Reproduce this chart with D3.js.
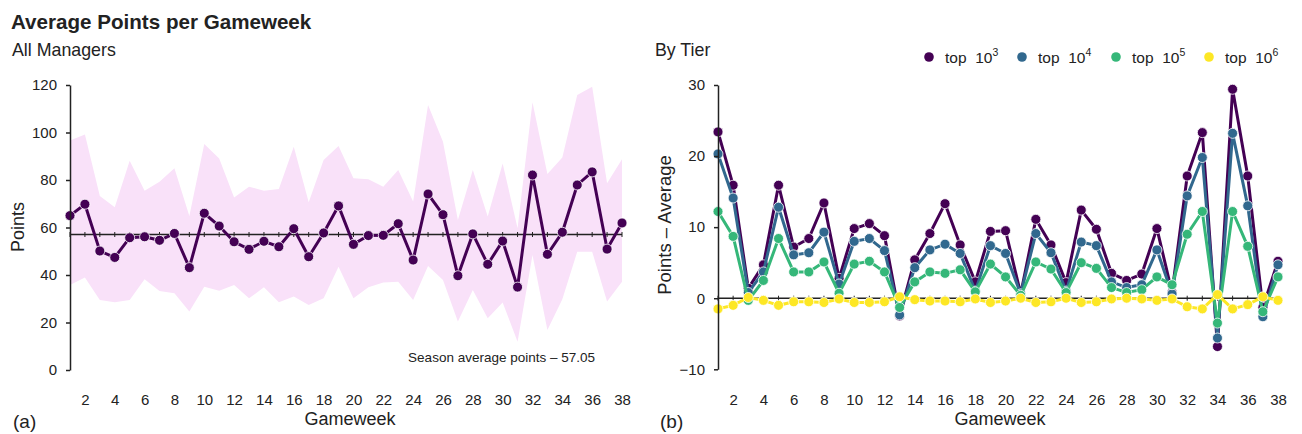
<!DOCTYPE html>
<html>
<head>
<meta charset="utf-8">
<script src="https://cdn.jsdelivr.net/npm/d3@7"></script>
<style>
  body { margin: 0; background: #fff; }
  svg text { font-family: "Liberation Sans", Arial, sans-serif; fill: #222; }
</style>
</head>
<body>
<svg id="chart" width="1302" height="434"></svg>
<script>
// gameweeks 1..38
const gameweeks = d3.range(1, 39)

// panel (a): average points of all managers, plus the spread band
const avgPoints = [65.0, 69.8, 50.1, 47.4, 55.7, 56.1, 54.6, 57.5, 43.1, 66.0,
    60.6, 54.0, 50.8, 54.2, 51.9, 59.5, 47.7, 57.7, 69.1, 52.9,
    56.6, 56.7, 61.6, 46.3, 74.1, 65.4, 39.7, 57.3, 44.5, 54.3,
    34.9, 82.1, 48.7, 58.0, 77.9, 83.4, 50.9, 61.9]
const bandUpper = [96.6, 99.2, 73.3, 68.5, 88.1, 75.5, 79.3, 84.9, 64.8, 95.2,
    89.1, 72.6, 77.2, 75.5, 76.2, 94.0, 70.6, 88.4, 94.3, 80.7,
    80.3, 77.2, 84.2, 70.9, 111.6, 96.1, 63.2, 84.2, 64.6, 87.0,
    59.7, 112.7, 82.5, 89.5, 115.8, 119.3, 78.6, 88.7]
const bandLower = [35.8, 39.0, 29.5, 28.5, 29.5, 38.2, 33.3, 32.3, 24.6, 35.1,
    33.4, 35.8, 30.2, 34.8, 28.5, 30.9, 27.4, 30.2, 43.5, 30.2,
    34.8, 36.8, 37.2, 29.5, 43.8, 37.9, 20.4, 33.7, 21.8, 28.4,
    11.9, 48.4, 16.8, 29.8, 49.8, 49.8, 28.8, 37.2]
const seasonAvg = 57.05

// panel (b): points minus average, per tier
const tierNames = ["3", "4", "5", "6"]
const tierColors = ["#440154", "#31688e", "#35b779", "#fde725"]
const top1e3 = [23.4, 15.9, 1.4, 4.7, 15.9, 7.2, 8.4, 13.4, 2.8, 9.8,
    10.5, 8.8, -2.5, 5.4, 9.1, 13.3, 7.5, 2.3, 9.4, 9.5,
    0.6, 11.1, 7.5, 2.2, 12.4, 9.7, 3.5, 2.5, 3.4, 9.8,
    0.8, 17.2, 23.3, -6.8, 29.4, 17.2, -1.3, 5.2]
const top1e4 = [20.3, 14.1, 0.8, 3.7, 12.8, 6.1, 6.4, 9.3, 2.0, 8.0,
    8.4, 6.7, -2.35, 4.3, 6.8, 7.6, 6.3, 1.0, 7.4, 6.3,
    0.6, 9.1, 6.4, 1.0, 7.9, 7.4, 2.3, 1.5, 1.9, 6.8,
    0.6, 14.4, 19.8, -5.6, 23.2, 13.0, -2.6, 4.7]
const top1e5 = [12.2, 8.7, -0.3, 2.5, 8.4, 3.7, 3.7, 5.1, 0.7, 4.8,
    5.2, 3.7, -1.3, 2.3, 3.7, 3.5, 4.0, 0.9, 4.8, 3.0,
    0.4, 5.1, 4.1, 0.8, 5.0, 4.2, 1.5, 0.8, 1.2, 3.0,
    1.9, 9.0, 12.2, -3.5, 12.2, 7.3, -1.9, 3.0]
const top1e6 = [-1.5, -1.0, 0.1, -0.3, -1.0, -0.5, -0.5, -0.6, -0.1, -0.6,
    -0.6, -0.5, 0.2, -0.2, -0.4, -0.4, -0.5, -0.1, -0.6, -0.4,
    0.0, -0.6, -0.5, 0.0, -0.6, -0.5, -0.1, 0.0, -0.1, -0.3,
    -0.1, -1.2, -1.5, 0.5, -1.5, -0.9, 0.2, -0.3]
const tiers = [top1e3, top1e4, top1e5, top1e6]

const xTicks = d3.range(2, 39, 2)
const yTicksL = [0, 20, 40, 60, 80, 100, 120]
const yTicksR = [-10, 0, 10, 20, 30]

const svg = d3.select("#chart")

// titles
svg.append("text").attr("x", 11).attr("y", 29)
    .style("font-size", "20.6px").style("font-weight", "bold")
    .text("Average Points per Gameweek")
svg.append("text").attr("x", 12).attr("y", 56)
    .style("font-size", "17.8px").text("All Managers")
svg.append("text").attr("x", 655).attr("y", 56)
    .style("font-size", "17.8px").text("By Tier")

//*************** Panel (a) ***************/
const xL = d3.scaleLinear().domain([1, 38]).range([70, 622])
const yL = d3.scaleLinear().domain([0, 120]).range([370, 85])

const gA = svg.append("g")

// band
gA.append("path")
    .datum(gameweeks)
    .attr("fill", "#f9e1f9")
    .attr("d", d3.area()
        .x(d => xL(d))
        .y0((d, i) => yL(bandLower[i]))
        .y1((d, i) => yL(bandUpper[i])))

// season average line with little ticks
gA.append("line")
    .attr("x1", xL(1)).attr("x2", xL(38))
    .attr("y1", yL(seasonAvg)).attr("y2", yL(seasonAvg))
    .attr("stroke", "#222").attr("stroke-width", 1.5)
gA.selectAll(".avgTick").data(gameweeks).join("line")
    .attr("x1", d => xL(d)).attr("x2", d => xL(d))
    .attr("y1", yL(seasonAvg) - 2.5).attr("y2", yL(seasonAvg) + 2.5)
    .attr("stroke", "#222").attr("stroke-width", 1)

gA.append("path")
    .datum(avgPoints)
    .attr("fill", "none")
    .attr("stroke", "#440154")
    .attr("stroke-width", 3)
    .attr("d", d3.line().x((d, i) => xL(i + 1)).y(d => yL(d)))
gA.selectAll("circle").data(avgPoints).join("circle")
    .attr("cx", (d, i) => xL(i + 1))
    .attr("cy", d => yL(d))
    .attr("r", 5)
    .attr("fill", "#440154")
    .attr("stroke", "#fff").attr("stroke-width", 0.8)

gA.append("text").attr("x", 595).attr("y", 362)
    .attr("text-anchor", "end").style("font-size", "13.5px")
    .text("Season average points \u2013 57.05")

// axes
const yAxisL = gA.append("g").attr("transform", "translate(70,0)")
    .call(d3.axisLeft(yL).tickValues(yTicksL).tickSize(4).tickSizeOuter(0).tickPadding(9))
const xAxisL = gA.append("g").attr("transform", "translate(0,394)")
    .call(d3.axisBottom(xL).tickValues(xTicks).tickSize(0).tickPadding(0))

gA.append("text").attr("transform", "translate(24,227) rotate(-90)")
    .attr("text-anchor", "middle").style("font-size", "18px").text("Points")
gA.append("text").attr("x", 350).attr("y", 425)
    .attr("text-anchor", "middle").style("font-size", "18px").text("Gameweek")
gA.append("text").attr("x", 13).attr("y", 428)
    .style("font-size", "19px").text("(a)")

//*************** Panel (b) ***************/
const xR = d3.scaleLinear().domain([1, 38]).range([718, 1278])
const yR = d3.scaleLinear().domain([-10, 30]).range([369.3, 85])

const gB = svg.append("g")

gB.append("line")
    .attr("x1", xR(1)).attr("x2", xR(38))
    .attr("y1", yR(0)).attr("y2", yR(0))
    .attr("stroke", "#222").attr("stroke-width", 1.5)
gB.selectAll(".zeroTick").data(gameweeks).join("line")
    .attr("x1", d => xR(d)).attr("x2", d => xR(d))
    .attr("y1", yR(0) - 2.5).attr("y2", yR(0) + 2.5)
    .attr("stroke", "#222").attr("stroke-width", 1)

tiers.forEach((vals, k) => {
    const g = gB.append("g")
    g.append("path")
        .datum(vals)
        .attr("fill", "none")
        .attr("stroke", tierColors[k])
        .attr("stroke-width", 3)
        .attr("d", d3.line().x((d, i) => xR(i + 1)).y(d => yR(d)))
    g.selectAll("circle").data(vals).join("circle")
        .attr("cx", (d, i) => xR(i + 1))
        .attr("cy", d => yR(d))
        .attr("r", 5)
        .attr("fill", tierColors[k])
        .attr("stroke", "#fff").attr("stroke-width", 0.8)
})

gB.append("g").attr("transform", "translate(718,0)")
    .call(d3.axisLeft(yR).tickValues(yTicksR).tickSize(4).tickSizeOuter(0).tickPadding(9)
        .tickFormat(d => d < 0 ? "\u2212" + Math.abs(d) : d))
const xAxisR = gB.append("g").attr("transform", "translate(0,394)")
    .call(d3.axisBottom(xR).tickValues(xTicks).tickSize(0).tickPadding(0))

gB.append("text").attr("transform", "translate(671,225) rotate(-90)")
    .attr("text-anchor", "middle").style("font-size", "18.5px").text("Points \u2013 Average")
gB.append("text").attr("x", 1000).attr("y", 425)
    .attr("text-anchor", "middle").style("font-size", "18px").text("Gameweek")
gB.append("text").attr("x", 660).attr("y", 428)
    .style("font-size", "19px").text("(b)")

// legend
const legendX = [929, 1022, 1116, 1209]
const legend = gB.selectAll(".leg").data(tierNames).join("g")
    .attr("transform", (d, i) => `translate(${legendX[i]},57)`)
legend.append("circle").attr("r", 4.8).attr("fill", (d, i) => tierColors[i])
const lt = legend.append("text").attr("x", 16).attr("y", 5.5).style("font-size", "15.5px")
lt.append("tspan").text("top\u00a0\u00a010")
lt.append("tspan").attr("dy", -7).style("font-size", "10.5px").text(d => d)

// style axes
svg.selectAll(".domain").attr("stroke", "#222").attr("stroke-width", 1.5)
svg.selectAll(".tick line").attr("stroke", "#222").attr("stroke-width", 1.5)
svg.selectAll(".tick text").style("font-size", "15px").attr("fill", "#222")
xAxisL.select(".domain").remove()
xAxisR.select(".domain").remove()
</script>
</body>
</html>
